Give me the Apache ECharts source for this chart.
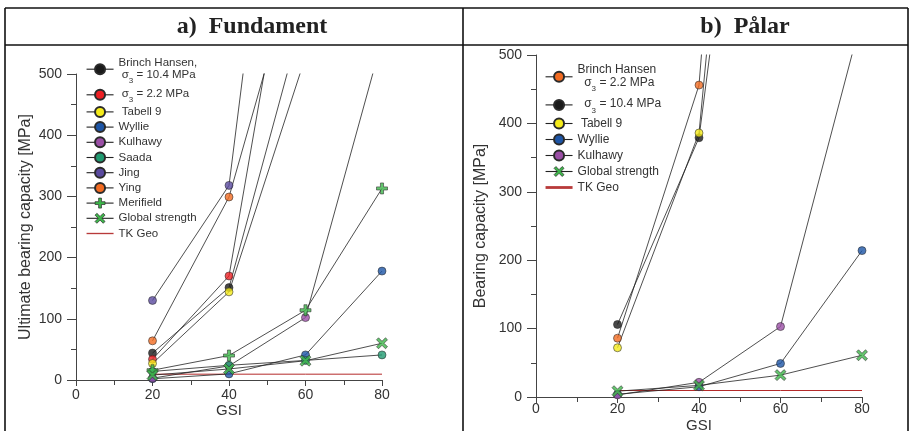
<!DOCTYPE html>
<html>
<head>
<meta charset="utf-8">
<script src="https://cdn.jsdelivr.net/npm/echarts@6/dist/echarts.min.js"></script>
<style>
html,body{margin:0;padding:0;background:#fff;}
#chart{width:912px;height:431px;}
</style>
</head>
<body>
<div id="chart"></div>
<script>
// ---------- data ----------
const gsi = [20, 40, 60, 80];
const xTickLabels = [0, 20, 40, 60, 80];
const yTickLabels = [0, 100, 200, 300, 400, 500];
const panelTitles = ['a)  Fundament', 'b)  Pålar'];

// a) Fundament  [MPa] at GSI 20, 40, 60, 80 (null = not given)
const aBrinch104 = [44, 151, 611, null];
const aBrinch22  = [34, 170, 890, null];
const aTabell9   = [27, 144, 528, null];
const aWyllie    = [2, 10, 41, 178];
const aKulhawy   = [3, 23, 102, 555];
const aSaada     = [14, 24, 32, 41];
const aJing      = [130, 318, 1312, null];
const aYing      = [64, 299, 738, null];
const aMerifield = [16, 40, 114, 313];
const aGlobal    = [8, 18, 31.5, 60];
const aTKGeo     = [9.5, 9.5, 9.5, 9.5];

// b) Pålar
const bBrinch22  = [86, 456, 1930, null];
const bBrinch104 = [106, 379, 1301, null];
const bTabell9   = [72, 386, 1634, null];
const bWyllie    = [4, 15, 49, 214];
const bKulhawy   = [3, 21.5, 103, 556];
const bGlobal    = [8.5, 17, 32, 61];
const bTKGeo     = [9.5, 9.5, 9.5, 9.5];

// ---------- styling ----------
const PLUS = 'path://M4.3,0 H7.7 V4.3 H12 V7.7 H7.7 V12 H4.3 V7.7 H0 V4.3 H4.3 Z';
const CROSS = 'path://M0,2.2 L2.2,0 L6,3.8 L9.8,0 L12,2.2 L8.2,6 L12,9.8 L9.8,12 L6,8.2 L2.2,12 L0,9.8 L3.8,6 Z';
const FONT = 'Liberation Sans';
const GREEN = '#3db54a';

function pairs(arr) {
  const out = [];
  gsi.forEach((g, i) => { if (arr[i] !== null) out.push([g, arr[i]]); });
  return out;
}

const series = [];
function addSeries(panel, id, arr, color, symbol) {
  const sym = symbol === 'plus' ? PLUS : symbol === 'cross' ? CROSS : 'circle';
  const size = symbol === 'circle' ? 8 : 11;
  const itemStyle = { color: color, borderColor: '#2a2a2a', borderWidth: 0.7 };
  series.push({
    type: 'line', name: id, xAxisIndex: panel, yAxisIndex: panel,
    data: pairs(arr), symbol: sym, symbolSize: size, showSymbol: false,
    lineStyle: { color: '#222', width: 0.8 }, itemStyle: itemStyle,
    clip: true, z: 2, silent: true, connectNulls: true
  });
  series.push({
    type: 'scatter', name: id + '_pt', xAxisIndex: panel, yAxisIndex: panel,
    data: pairs(arr), symbol: sym, symbolSize: size, itemStyle: itemStyle,
    clip: true, z: 3, silent: true
  });
}
function addRef(panel, id, arr) {
  series.push({
    type: 'line', name: id, xAxisIndex: panel, yAxisIndex: panel,
    data: pairs(arr), symbol: 'none', color: '#b42a2a',
    lineStyle: { color: '#b42a2a', width: 1 }, itemStyle: { color: '#b42a2a' },
    clip: true, z: 1, silent: true
  });
}

// left panel
addRef(0, 'aTK', aTKGeo);
addSeries(0, 'aBH104', aBrinch104, '#1a1a1a', 'circle');
addSeries(0, 'aBH22', aBrinch22, '#ed2024', 'circle');
addSeries(0, 'aTab', aTabell9, '#f5eb1a', 'circle');
addSeries(0, 'aJing', aJing, '#5a4a9f', 'circle');
addSeries(0, 'aYing', aYing, '#f26b21', 'circle');
addSeries(0, 'aWyllie', aWyllie, '#1d55a6', 'circle');
addSeries(0, 'aKulhawy', aKulhawy, '#9b4fa6', 'circle');
addSeries(0, 'aSaada', aSaada, '#1f9a70', 'circle');
addSeries(0, 'aMerifield', aMerifield, GREEN, 'plus');
addSeries(0, 'aGlobal', aGlobal, GREEN, 'cross');
// right panel
addRef(1, 'bTK', bTKGeo);
addSeries(1, 'bBH22', bBrinch22, '#f26b21', 'circle');
addSeries(1, 'bBH104', bBrinch104, '#1a1a1a', 'circle');
addSeries(1, 'bTab', bTabell9, '#f5eb1a', 'circle');
addSeries(1, 'bWyllie', bWyllie, '#1d55a6', 'circle');
addSeries(1, 'bKulhawy', bKulhawy, '#9b4fa6', 'circle');
addSeries(1, 'bGlobal', bGlobal, GREEN, 'cross');

const labelMap = {
  aBH104: '{h|Brinch Hansen,}\n{t| σ}{s|3}{t| = 10.4 MPa}',
  aBH22: '{t| σ}{s|3}{t| = 2.2 MPa}',
  aTab: ' Tabell 9', aWyllie: 'Wyllie', aKulhawy: 'Kulhawy', aSaada: 'Saada',
  aJing: 'Jing', aYing: 'Ying', aMerifield: 'Merifield', aGlobal: 'Global strength', aTK: 'TK Geo',
  bBH22: '{h|Brinch Hansen}\n{t|  σ}{s|3}{t| = 2.2 MPa}',
  bBH104: '{t|  σ}{s|3}{t| = 10.4 MPa}',
  bTab: ' Tabell 9', bWyllie: 'Wyllie', bKulhawy: 'Kulhawy', bGlobal: 'Global strength', bTK: 'TK Geo'
};

function xAxisCfg(idx, gap, margin) {
  return {
    gridIndex: idx, type: 'value', min: 0, max: 80, interval: 20,
    name: 'GSI', nameLocation: 'middle', nameGap: gap, nameMoveOverlap: false,
    nameTextStyle: { fontSize: 15, color: '#333', fontFamily: FONT },
    axisLine: { lineStyle: { color: '#444', width: 1 } },
    axisTick: { show: true, length: 6, lineStyle: { color: '#444' } },
    minorTick: { show: true, splitNumber: 2, length: 5, lineStyle: { color: '#444' } },
    axisLabel: { fontSize: 14, color: '#333', margin: margin, fontFamily: FONT,
      formatter: v => xTickLabels.includes(v) ? String(v) : '' },
    splitLine: { show: false }, minorSplitLine: { show: false }
  };
}
function yAxisCfg(idx, name, gap) {
  return {
    gridIndex: idx, type: 'value', min: 0, max: 500, interval: 100,
    name: name, nameLocation: 'middle', nameGap: gap, nameMoveOverlap: false,
    nameTextStyle: { fontSize: 16, color: '#333', fontFamily: FONT },
    axisLine: { show: true, lineStyle: { color: '#444', width: 1 } },
    axisTick: { show: true, length: 9, lineStyle: { color: '#444' } },
    minorTick: { show: true, splitNumber: 2, length: 5, lineStyle: { color: '#444' } },
    axisLabel: { fontSize: 14, color: '#333', margin: 14, fontFamily: FONT,
      formatter: v => yTickLabels.includes(v) ? String(v) : '' },
    splitLine: { show: false }, minorSplitLine: { show: false }
  };
}

function legendItem(n) {
  if (n.endsWith('TK')) {
    return { name: n, icon: n === 'aTK' ? 'path://M0,0 H40 V2 H0 Z' : 'path://M0,0 H27 V2.8 H0 Z',
      itemStyle: { color: '#b83a3a', borderWidth: 0 } };
  }
  if (n.endsWith('Merifield') || n.endsWith('Global')) {
    return { name: n, itemStyle: { color: GREEN, borderColor: '#2a2a2a', borderWidth: 0.7 } };
  }
  return { name: n };
}

function legendCfg(names, left, top, fs, gap, lh, subPad) {
  return {
    orient: 'vertical', left: left, top: top, padding: 0,
    itemWidth: 27, itemHeight: 12.5, itemGap: gap, selectedMode: false,
    lineStyle: { width: 1.1, color: '#222' },
    data: names.map(legendItem),
    formatter: n => labelMap[n],
    textStyle: {
      fontSize: fs, color: '#333', fontFamily: FONT, lineHeight: lh,
      rich: {
        h: { fontSize: fs, color: '#333', fontFamily: FONT, lineHeight: lh },
        t: { fontSize: fs, color: '#333', fontFamily: FONT, lineHeight: lh, verticalAlign: 'top' },
        s: { fontSize: 8, color: '#333', fontFamily: FONT, lineHeight: 8, padding: [subPad, 0, 0, 0] }
      }
    }
  };
}

const frame = { stroke: '#111', lineWidth: 1.6 };
const titleStyle = { fontSize: 24, fontWeight: 'bold', fontFamily: 'Liberation Serif',
  fill: '#222', align: 'center', verticalAlign: 'middle', textAlign: 'center', textVerticalAlign: 'middle' };
const option = {
  animation: false,
  backgroundColor: '#fff',
  textStyle: { fontFamily: FONT },
  grid: [
    { left: 76, top: 74, width: 306, height: 306, containLabel: false, outerBoundsMode: 'none' },
    { left: 536, top: 55, width: 326, height: 342, containLabel: false, outerBoundsMode: 'none' }
  ],
  xAxis: [xAxisCfg(0, 23, 8), xAxisCfg(1, 21, 5)],
  yAxis: [yAxisCfg(0, 'Ultimate bearing capacity [MPa]', 42), yAxisCfg(1, 'Bearing capacity [MPa]', 47)],
  legend: [
    legendCfg(['aBH104', 'aBH22', 'aTab', 'aWyllie', 'aKulhawy', 'aSaada', 'aJing', 'aYing', 'aMerifield', 'aGlobal', 'aTK'], 86, 56, 11.5, 2.0, 13.2, 9),
    legendCfg(['bBH22', 'bBH104', 'bTab', 'bWyllie', 'bKulhawy', 'bGlobal', 'bTK'], 545, 63, 12, 2.2, 13.8, 11)
  ],
  graphic: [
    { type: 'line', shape: { x1: 5, y1: 8, x2: 908, y2: 8 }, style: frame, silent: true },
    { type: 'line', shape: { x1: 5, y1: 45, x2: 908, y2: 45 }, style: frame, silent: true },
    { type: 'line', shape: { x1: 5, y1: 8, x2: 5, y2: 431 }, style: frame, silent: true },
    { type: 'line', shape: { x1: 908, y1: 8, x2: 908, y2: 431 }, style: frame, silent: true },
    { type: 'line', shape: { x1: 463, y1: 8, x2: 463, y2: 431 }, style: frame, silent: true },
    { type: 'text', x: 252, y: 27, silent: true, style: Object.assign({ text: panelTitles[0] }, titleStyle) },
    { type: 'text', x: 745, y: 27, silent: true, style: Object.assign({ text: panelTitles[1] }, titleStyle) }
  ],
  series: series
};

const chart = echarts.init(document.getElementById('chart'), null, { renderer: 'canvas' });
chart.setOption(option);
</script>
</body>
</html>
